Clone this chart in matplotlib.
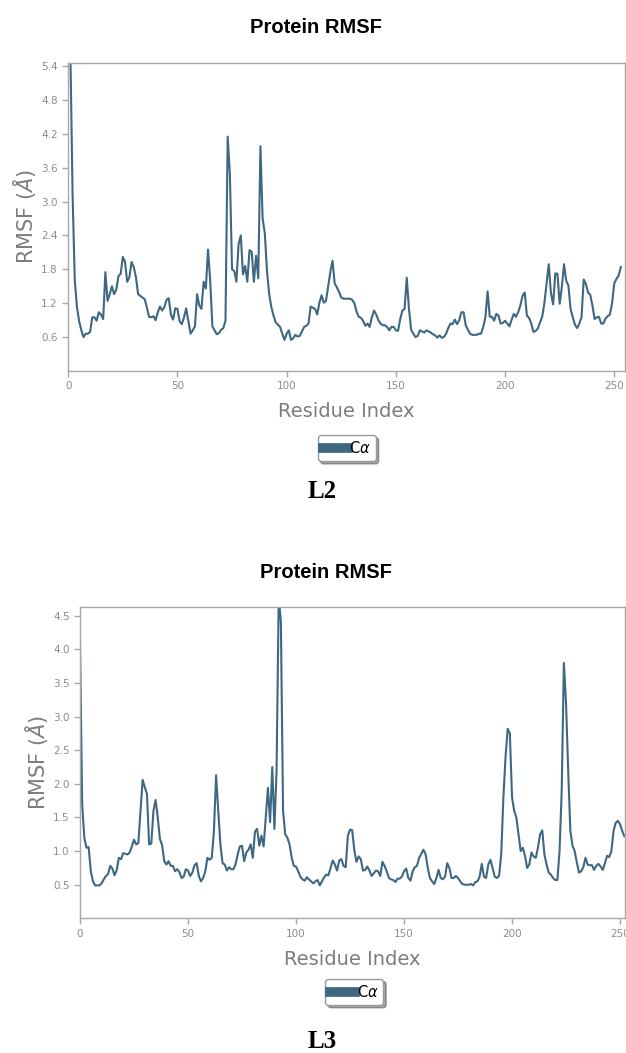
import matplotlib
matplotlib.use("Agg")
import matplotlib.pyplot as plt
from matplotlib.lines import Line2D

# L2 residue RMSF
l2_residue = list(range(1, 254))
l2_rmsf = [
    5.6, 3.1, 1.6, 1.13, 0.88, 0.72, 0.6, 0.66, 0.66, 0.69,
    0.95, 0.95, 0.89, 1.04, 1.0, 0.92, 1.75, 1.24, 1.36, 1.5,
    1.36, 1.44, 1.68, 1.72, 2.02, 1.93, 1.58, 1.66, 1.93, 1.84,
    1.66, 1.36, 1.33, 1.3, 1.27, 1.13, 0.96, 0.95, 0.97, 0.90,
    1.04, 1.14, 1.07, 1.13, 1.26, 1.29, 1.0, 0.91, 1.11, 1.10,
    0.88, 0.83, 0.95, 1.11, 0.88, 0.66, 0.72, 0.79, 1.36, 1.16,
    1.1, 1.58, 1.46, 2.15, 1.6, 0.79, 0.72, 0.65, 0.67, 0.73,
    0.76, 0.89, 4.15, 3.49, 1.80, 1.77, 1.58, 2.25, 2.4, 1.71,
    1.86, 1.58, 2.14, 2.11, 1.58, 2.04, 1.64, 3.98, 2.7, 2.44,
    1.77, 1.36, 1.13, 0.98, 0.86, 0.82, 0.78, 0.66, 0.55, 0.66,
    0.72, 0.55, 0.58, 0.64, 0.61, 0.62, 0.7, 0.78, 0.80, 0.84,
    1.14, 1.12, 1.1, 1.0, 1.21, 1.34, 1.21, 1.24, 1.5, 1.75,
    1.95, 1.55, 1.48, 1.40, 1.30, 1.28, 1.28, 1.28, 1.28, 1.26,
    1.20, 1.05, 0.96, 0.94, 0.89, 0.80, 0.84, 0.78, 0.95, 1.07,
    1.0, 0.9, 0.84, 0.81, 0.81, 0.78, 0.72, 0.78, 0.78, 0.72,
    0.71, 0.92, 1.07, 1.10, 1.65, 1.1, 0.73, 0.66, 0.6, 0.62,
    0.72, 0.7, 0.68, 0.72, 0.7, 0.68, 0.65, 0.63, 0.59, 0.63,
    0.59, 0.6, 0.66, 0.76, 0.84, 0.83, 0.91, 0.83, 0.90, 1.04,
    1.04, 0.81, 0.73, 0.66, 0.64, 0.64, 0.64, 0.66, 0.66, 0.78,
    0.95, 1.41, 0.96, 0.96, 0.89, 1.01, 0.98, 0.84, 0.85, 0.89,
    0.84, 0.79, 0.91, 1.01, 0.96, 1.04, 1.16, 1.33, 1.39, 0.98,
    0.94, 0.84, 0.69, 0.71, 0.75, 0.86, 0.96, 1.2, 1.55, 1.89,
    1.38, 1.18, 1.73, 1.72, 1.19, 1.49, 1.89, 1.60, 1.51, 1.10,
    0.95, 0.82, 0.76, 0.84, 0.95, 1.62, 1.54, 1.39, 1.35, 1.16,
    0.92, 0.95, 0.96, 0.84, 0.84, 0.93, 0.97, 1.0, 1.2, 1.55,
    1.63, 1.69, 1.84,
]

# L3 residue RMSF
l3_residue = list(range(0, 253))
l3_rmsf = [
    4.12, 1.7, 1.2, 1.05, 1.06, 0.7, 0.55, 0.49, 0.49, 0.49,
    0.52, 0.58, 0.63, 0.66, 0.78, 0.74, 0.64, 0.72, 0.9, 0.88,
    0.97, 0.96, 0.95, 0.98, 1.07, 1.17, 1.1, 1.12, 1.6, 2.06,
    1.95, 1.85, 1.1, 1.11, 1.6, 1.76, 1.5, 1.18, 1.09, 0.85,
    0.8, 0.85, 0.78, 0.78, 0.70, 0.73, 0.69, 0.6, 0.62, 0.73,
    0.71, 0.63, 0.68, 0.79, 0.82, 0.63, 0.55, 0.6, 0.7, 0.9,
    0.87, 0.9, 1.3, 2.13, 1.6, 1.1, 0.82, 0.80, 0.71, 0.76,
    0.73, 0.73, 0.80, 0.95, 1.07, 1.08, 0.85, 0.98, 1.02, 1.1,
    0.9, 1.29, 1.33, 1.08, 1.23, 1.07, 1.5, 1.94, 1.43, 2.25,
    1.33, 2.2, 4.8, 4.4, 1.6, 1.25, 1.2, 1.1, 0.9, 0.78,
    0.77, 0.7, 0.62, 0.58, 0.56, 0.61, 0.58, 0.55, 0.52, 0.55,
    0.57, 0.49, 0.55, 0.61, 0.65, 0.64, 0.75, 0.86, 0.8, 0.71,
    0.86, 0.88, 0.78, 0.76, 1.23, 1.32, 1.31, 1.01, 0.84, 0.92,
    0.88, 0.71, 0.72, 0.77, 0.71, 0.63, 0.67, 0.71, 0.7, 0.63,
    0.84, 0.78, 0.7, 0.6, 0.58, 0.57, 0.54, 0.59, 0.59, 0.62,
    0.7, 0.74, 0.6, 0.56, 0.7, 0.76, 0.78, 0.9, 0.96, 1.02,
    0.95, 0.75, 0.6, 0.55, 0.51, 0.6, 0.72, 0.6, 0.58, 0.62,
    0.82, 0.75, 0.6, 0.6, 0.63, 0.6, 0.55, 0.51, 0.5, 0.5,
    0.5, 0.51, 0.49, 0.54, 0.55, 0.62, 0.81, 0.62, 0.6, 0.8,
    0.87, 0.75, 0.62, 0.6, 0.63, 0.95, 1.8, 2.4, 2.82, 2.75,
    1.8, 1.6, 1.5, 1.25, 1.0, 1.05, 0.93, 0.75, 0.8, 0.98,
    0.92, 0.9, 1.05, 1.25, 1.31, 0.95, 0.8, 0.68, 0.65, 0.6,
    0.57, 0.57, 1.0, 1.9, 3.8, 3.2, 2.2, 1.3, 1.08, 1.0,
    0.83, 0.68, 0.7, 0.76, 0.9, 0.8, 0.79, 0.79, 0.72, 0.78,
    0.81, 0.77, 0.72, 0.82, 0.93, 0.91, 1.0, 1.3, 1.42, 1.45,
    1.4, 1.3, 1.22,
]

l2_yticks = [0.6, 1.2, 1.8, 2.4, 3.0, 3.6, 4.2, 4.8, 5.4]
l3_yticks = [0.5, 1.0, 1.5, 2.0, 2.5, 3.0, 3.5, 4.0, 4.5]
xticks = [0, 50, 100, 150, 200, 250]

line_color = "#3e6882"
spine_color = "#a8a8a8"
tick_color = "#8c8c8c"
label_color = "#7d7d7d"

fig = plt.figure(figsize=(6.26, 10.53), dpi=100)


def draw_panel(rect, res, vals, yticks, xmax, ymax, ylab_x, title_xy, legend_xy, tag_xy, tag):
    ax = fig.add_axes(rect)
    ax.plot(res, vals, color=line_color, lw=1.5)
    ax.set_xlim(0, xmax)
    ax.set_ylim(0, ymax)
    ax.set_xticks(xticks)
    ax.set_yticks(yticks)
    ax.set_yticklabels([f"{t:.1f}" for t in yticks])
    for s in ax.spines.values():
        s.set_color(spine_color)
        s.set_linewidth(1.0)
    ax.tick_params(axis="both", colors=spine_color, labelcolor=tick_color,
                   labelsize=7.5, length=4, width=1, direction="out")
    ax.tick_params(top=False, right=False)
    ax.set_xlabel("Residue Index", fontsize=14, color=label_color, labelpad=8)
    b = ax.get_position()
    fig.text(ylab_x, b.y0 + b.height / 2, r"RMSF ($\AA$)", rotation=90,
             ha="center", va="center", fontsize=15, color=label_color)
    fig.text(title_xy[0], title_xy[1], "Protein RMSF", ha="center", va="center",
             fontsize=14.5, fontweight="bold", family="Liberation Sans")
    fig.legend(handles=[Line2D([], [], color=line_color, lw=7)], labels=[r"C$\alpha$"],
               loc="upper center", bbox_to_anchor=legend_xy, fontsize=10.5,
               shadow=True, fancybox=True, handlelength=1.7, handletextpad=0.1,
               borderpad=0.35, borderaxespad=0, edgecolor="#999999", framealpha=1)
    fig.text(tag_xy[0], tag_xy[1], tag, ha="center", va="center", fontsize=18,
             fontweight="bold", family="Liberation Serif")
    return ax


draw_panel([0.109, 0.6477, 0.889, 0.2928], l2_residue, l2_rmsf, l2_yticks, 254.8, 5.46,
           25 / 626, (0.504, 0.974), (0.554, 0.587), (0.514, 0.5337), "L2")
draw_panel([0.1278, 0.1279, 0.8706, 0.2956], l3_residue, l3_rmsf, l3_yticks, 252.3, 4.63,
           37 / 626, (0.521, 0.4563), (0.566, 0.0705), (0.514, 0.0105), "L3")

fig.savefig("out.png", dpi=100, facecolor="white")
